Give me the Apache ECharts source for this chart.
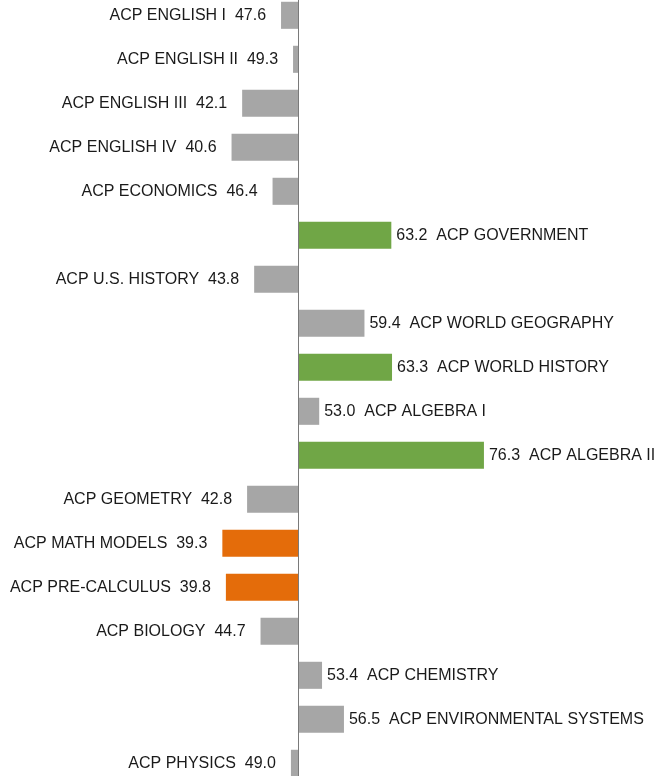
<!DOCTYPE html>
<html>
<head>
<meta charset="utf-8">
<script src="https://cdn.jsdelivr.net/npm/echarts@6/dist/echarts.min.js"></script>
<style>
  html, body { margin: 0; padding: 0; background: #fff; }
  #chart { width: 657px; height: 776px; }
</style>
</head>
<body>
<div id="chart"></div>
<script>
// Course names, top to bottom
const courses = [
  'ACP ENGLISH I', 'ACP ENGLISH II', 'ACP ENGLISH III', 'ACP ENGLISH IV',
  'ACP ECONOMICS', 'ACP GOVERNMENT', 'ACP U.S. HISTORY', 'ACP WORLD GEOGRAPHY',
  'ACP WORLD HISTORY', 'ACP ALGEBRA I', 'ACP ALGEBRA II', 'ACP GEOMETRY',
  'ACP MATH MODELS', 'ACP PRE-CALCULUS', 'ACP BIOLOGY', 'ACP CHEMISTRY',
  'ACP ENVIRONMENTAL SYSTEMS', 'ACP PHYSICS'
];
// Average scores per course
const scores = [
  47.6, 49.3, 42.1, 40.6,
  46.4, 63.2, 43.8, 59.4,
  63.3, 53.0, 76.3, 42.8,
  39.3, 39.8, 44.7, 53.4,
  56.5, 49.0
];
// Bars grow out of this reference score
const baseline = 50;
const highMark = 60;
const lowMark = 40;

const COLORS = { high: '#70A646', low: '#E46C0A', mid: '#A6A6A6' };
const FONT = 'Liberation Sans, Arial, sans-serif';
const FONT_SIZE = 16;

function barColor(v) {
  if (v >= highMark) return COLORS.high;
  if (v < lowMark) return COLORS.low;
  return COLORS.mid;
}

const chart = echarts.init(document.getElementById('chart'), null, { renderer: 'canvas' });

chart.setOption({
  animation: false,
  backgroundColor: '#ffffff',
  grid: {
    left: 15.2, width: 636.3, top: -6.7, height: 792,
    containLabel: false, outerBoundsMode: 'none'
  },
  xAxis: {
    type: 'value', min: 10, max: 100,
    show: false, splitLine: { show: false }
  },
  yAxis: {
    type: 'category', data: courses, inverse: true,
    show: false
  },
  series: [{
    type: 'custom',
    clip: false,
    data: scores.map((v, i) => [v, i]),
    encode: { x: 0, y: 1 },
    renderItem: function (params, api) {
      const v = api.value(0);
      const idx = api.value(1);
      const start = api.coord([baseline, idx]);
      const end = api.coord([v, idx]);
      const band = api.size([0, 1])[1];
      const h = band * 0.615;
      const left = Math.min(start[0], end[0]);
      const w = Math.abs(end[0] - start[0]);
      const name = courses[idx];
      const below = v < baseline;
      const label = below
        ? name + '  ' + v.toFixed(1)
        : v.toFixed(1) + '  ' + name;
      return {
        type: 'group',
        children: [
          {
            type: 'rect',
            shape: { x: left, y: start[1] - h / 2, width: w, height: h },
            style: { fill: barColor(v) }
          },
          {
            type: 'text',
            x: below ? end[0] - 15 : end[0] + 5,
            y: start[1],
            style: {
              text: label,
              fill: '#1a1a1a',
              fontSize: FONT_SIZE,
              fontFamily: FONT,
              align: below ? 'right' : 'left',
              verticalAlign: 'middle'
            }
          }
        ]
      };
    },
    markLine: {
      silent: true,
      symbol: 'none',
      label: { show: false },
      lineStyle: { color: '#7a7a7a', width: 1, type: 'solid' },
      data: [{ xAxis: baseline }]
    }
  }]
});
</script>
</body>
</html>
